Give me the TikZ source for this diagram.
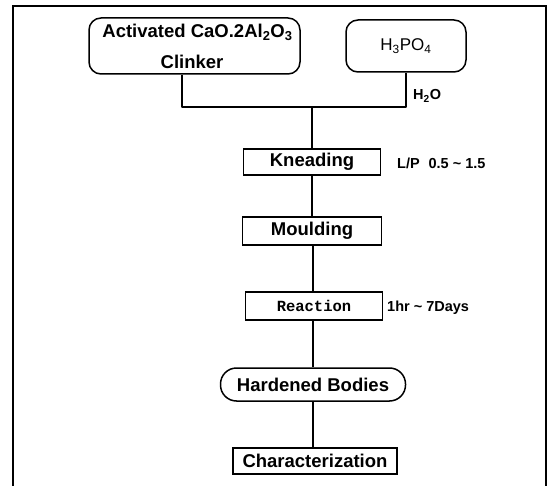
\documentclass[tikz,border=0pt]{standalone}
\usepackage{fontspec}
\setmainfont{Liberation Sans}
\newfontfamily\monob{Liberation Mono}
\tikzset{
  x=1pt, y=-1pt,
  ln/.style={line width=1.5pt, line join=round},
  boxr/.style={draw, line width=1.5pt, rounded corners=12pt, inner sep=0pt, align=center},
  boxs/.style={draw, line width=1.5pt, inner sep=0pt, align=center},
  lab/.style={font=\fontsize{18.5}{22}\selectfont\bfseries},
  small/.style={font=\fontsize{14.5}{17}\selectfont\bfseries, inner sep=0pt, anchor=west},
}
\begin{document}
\begin{tikzpicture}
\useasboundingbox (0,0) rectangle (551,486);
% outer frame
\draw[line width=1.5pt] (13,486) -- (13,6) -- (546,6) -- (546,486);
% top boxes
\node[boxr, minimum width=211pt, minimum height=56pt] (clinker) at (194.5,46) {};
\node[lab] (t1) at (197.5,32) {Activated CaO.2Al\textsubscript{2}O\textsubscript{3}};
\node[lab] (t2) at (192,62) {Clinker};
\node[boxr, minimum width=120pt, minimum height=52pt, font=\fontsize{17}{20}\selectfont] (acid) at (406,46) {H\textsubscript{3}PO\textsubscript{4}};
% junction
\coordinate (lj) at (182,107);
\coordinate (rj) at (406,107);
\coordinate (j) at (312,107);
\node[small] (h2o) at (413,96) {H\textsubscript{2}O};
% process boxes
\node[boxs, lab, minimum width=137pt, minimum height=26pt] (knead) at (312,162) {Kneading};
\node[boxs, lab, minimum width=139pt, minimum height=28pt] (mould) at (312,231) {Moulding};
\node[boxs, minimum width=137pt, minimum height=28pt, font=\fontsize{15.5}{18}\selectfont\monob\bfseries] (react) at (314,306) {Reaction};
\node[boxr, rounded corners=16pt, lab, minimum width=185pt, minimum height=33pt] (hard) at (313,384.5) {Hardened Bodies};
\node[boxs, lab, minimum width=164pt, minimum height=26pt] (char) at (315,461) {Characterization};
% side labels
\node[small] (lp) at (397,163) {L/P\,\, 0.5 \char`\~{} 1.5};
\node[small] (time) at (387,308) {1hr \char`\~{} 7Days};
% connectors
\draw[ln] (clinker.south -| lj) -- (lj) -- (rj) -- (acid.south);
\draw[ln] (j) -- (j |- knead.north);
\draw[ln] (j |- knead.south) -- (j |- mould.north);
\draw[ln] (313,245) coordinate (m1) -- (m1 |- react.north);
\draw[ln] (313,320) coordinate (r1) -- (r1 |- hard.north);
\draw[ln] (313,401) coordinate (h1) -- (h1 |- char.north);
\end{tikzpicture}
\end{document}
